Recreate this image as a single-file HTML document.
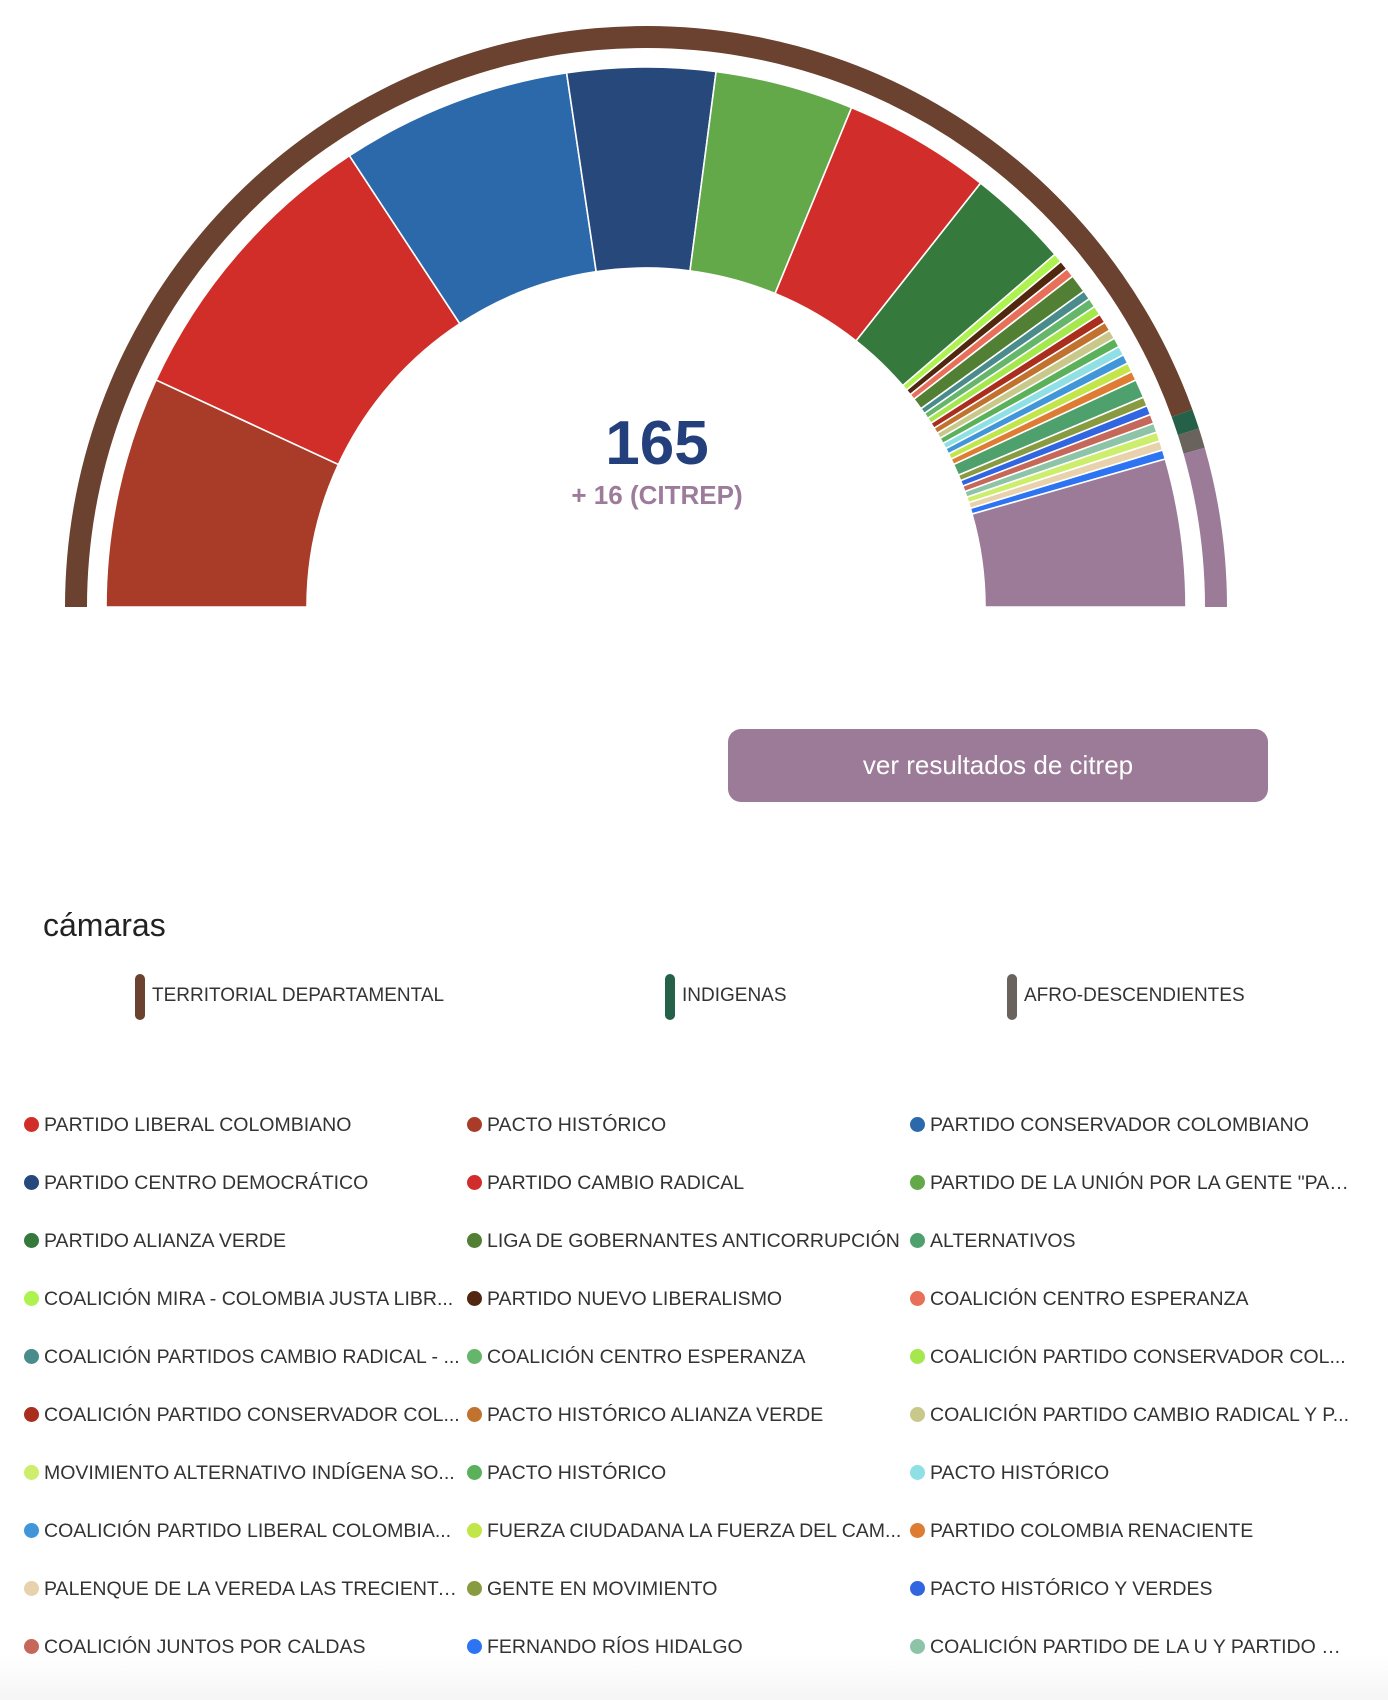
<!DOCTYPE html>
<html><head><meta charset="utf-8">
<style>
html,body{margin:0;padding:0;}
body{width:1388px;height:1700px;position:relative;overflow:hidden;font-family:"Liberation Sans",sans-serif;color:#333;
background:linear-gradient(to bottom,#fff 0,#fff 1655px,#f5f5f5 1700px);}
#chart{position:absolute;left:0;top:0;}
.num{position:absolute;left:0;width:1314px;text-align:center;}
.btn{position:absolute;left:728px;top:729px;width:540px;height:73px;border-radius:13px;background:#9c7b98;color:#fff;font-size:26px;line-height:73px;text-align:center;}
.cam{position:absolute;left:43px;top:907px;font-size:32px;color:#222;}
.cl{position:absolute;top:974px;height:45px;}
.cl i{position:absolute;left:0;top:0;width:10px;height:46px;border-radius:5px;}
.cl span{position:absolute;left:17px;top:11px;font-size:19px;white-space:nowrap;}
.lg{position:absolute;font-size:19.5px;white-space:nowrap;overflow:hidden;text-overflow:ellipsis;width:412px;height:26px;line-height:26px;}
.lg i{display:inline-block;width:15px;height:15px;border-radius:50%;vertical-align:-1px;margin-right:5px;}
</style></head><body>
<svg id="chart" width="1388" height="700" viewBox="0 0 1388 700"></svg>
<div class="num" style="top:408px;font-size:62px;font-weight:bold;color:#233f7c;">165</div>
<div class="num" style="top:480px;font-size:26px;font-weight:bold;color:#9d7b9a;">+ 16 (CITREP)</div>
<div class="btn">ver resultados de citrep</div>
<div class="cam">cámaras</div>
<div class="cl" style="left:135px"><i style="background:#6b412f"></i><span>TERRITORIAL DEPARTAMENTAL</span></div>
<div class="cl" style="left:665px"><i style="background:#246148"></i><span>INDIGENAS</span></div>
<div class="cl" style="left:1007px"><i style="background:#6a625d"></i><span>AFRO-DESCENDIENTES</span></div>
<script>
var cx=646,cy=607;
function P(r,t){t=t*Math.PI/180;return [(cx-r*Math.cos(t)).toFixed(2),(cy-r*Math.sin(t)).toFixed(2)];}
function arc(r0,r1,a0,a1,col,stroke){
 var p1=P(r1,a0),p2=P(r1,a1),p3=P(r0,a1),p4=P(r0,a0);
 var d='M'+p1+' A'+r1+','+r1+' 0 0 1 '+p2+' L'+p3+' A'+r0+','+r0+' 0 0 0 '+p4+'Z';
 return '<path d="'+d+'" fill="'+col+'"'+(stroke?' stroke="#fff" stroke-width="1.6"':'')+'/>';
}
var sl=[[25,'#a83c28'],[32,'#d12e29'],[25,'#2c69aa'],[16,'#27487a'],[15,'#63a949'],[16,'#d12e2b'],[11,'#35793d'],
[1,'#adf24f'],[1,'#52270f'],[1,'#e8705a'],[2,'#517f33'],[1,'#4a8b8b'],[1,'#65b66b'],[1,'#a5e84d'],[1,'#aa2e1e'],[1,'#c1722f'],[1,'#c8c88a'],[1,'#5bb05a'],[1,'#8fe0e5'],[1,'#4196da'],[1,'#c2e54a'],[1,'#dd7c32'],[2,'#4ea06c'],[1,'#889b40'],[1,'#3266e0'],[1,'#c5685a'],[1,'#8dc4a8'],[1,'#cdee6c'],[1,'#e8d2ad'],[1,'#2d74f2'],[16,'#9c7b99']];
var s='',a=0,u=180/181;
sl.forEach(function(x){var b=a+x[0]*u;s+=arc(339,540,a,b,x[1],true);a=b;});
var ring=[[161,'#6b412f'],[2,'#246148'],[2,'#6a625d'],[16,'#9c7b99']];a=0;
ring.forEach(function(x){var b=a+x[0]*u;s+=arc(559,581,a,b,x[1],false);a=b;});
document.getElementById('chart').innerHTML=s;
</script>
<div class="lg" style="left:24px;top:1112px"><i style="background:#d12e29"></i>PARTIDO LIBERAL COLOMBIANO</div>
<div class="lg" style="left:467px;top:1112px"><i style="background:#a83c28"></i>PACTO HISTÓRICO</div>
<div class="lg" style="left:910px;top:1112px"><i style="background:#2c69aa"></i>PARTIDO CONSERVADOR COLOMBIANO</div>
<div class="lg" style="left:24px;top:1170px"><i style="background:#27487a"></i>PARTIDO CENTRO DEMOCRÁTICO</div>
<div class="lg" style="left:467px;top:1170px"><i style="background:#d12e2b"></i>PARTIDO CAMBIO RADICAL</div>
<div class="lg" style="left:910px;top:1170px;width:440px"><i style="background:#63a949"></i>PARTIDO DE LA UNIÓN POR LA GENTE "PAR...</div>
<div class="lg" style="left:24px;top:1228px"><i style="background:#35793d"></i>PARTIDO ALIANZA VERDE</div>
<div class="lg" style="left:467px;top:1228px;width:440px"><i style="background:#517f33"></i>LIGA DE GOBERNANTES ANTICORRUPCIÓN</div>
<div class="lg" style="left:910px;top:1228px"><i style="background:#4ea06c"></i>ALTERNATIVOS</div>
<div class="lg" style="left:24px;top:1286px;width:440px"><i style="background:#adf24f"></i>COALICIÓN MIRA - COLOMBIA JUSTA LIBR...</div>
<div class="lg" style="left:467px;top:1286px"><i style="background:#52270f"></i>PARTIDO NUEVO LIBERALISMO</div>
<div class="lg" style="left:910px;top:1286px"><i style="background:#e8705a"></i>COALICIÓN CENTRO ESPERANZA</div>
<div class="lg" style="left:24px;top:1344px;width:440px"><i style="background:#4a8b8b"></i>COALICIÓN PARTIDOS CAMBIO RADICAL - ...</div>
<div class="lg" style="left:467px;top:1344px"><i style="background:#65b66b"></i>COALICIÓN CENTRO ESPERANZA</div>
<div class="lg" style="left:910px;top:1344px;width:440px"><i style="background:#a5e84d"></i>COALICIÓN PARTIDO CONSERVADOR COL...</div>
<div class="lg" style="left:24px;top:1402px;width:440px"><i style="background:#aa2e1e"></i>COALICIÓN PARTIDO CONSERVADOR COL...</div>
<div class="lg" style="left:467px;top:1402px"><i style="background:#c1722f"></i>PACTO HISTÓRICO ALIANZA VERDE</div>
<div class="lg" style="left:910px;top:1402px;width:440px"><i style="background:#c8c88a"></i>COALICIÓN PARTIDO CAMBIO RADICAL Y P...</div>
<div class="lg" style="left:24px;top:1460px;width:440px"><i style="background:#cdee6c"></i>MOVIMIENTO ALTERNATIVO INDÍGENA SO...</div>
<div class="lg" style="left:467px;top:1460px"><i style="background:#5bb05a"></i>PACTO HISTÓRICO</div>
<div class="lg" style="left:910px;top:1460px"><i style="background:#8fe0e5"></i>PACTO HISTÓRICO</div>
<div class="lg" style="left:24px;top:1518px;width:440px"><i style="background:#4196da"></i>COALICIÓN PARTIDO LIBERAL COLOMBIA...</div>
<div class="lg" style="left:467px;top:1518px;width:440px"><i style="background:#c2e54a"></i>FUERZA CIUDADANA LA FUERZA DEL CAM...</div>
<div class="lg" style="left:910px;top:1518px"><i style="background:#dd7c32"></i>PARTIDO COLOMBIA RENACIENTE</div>
<div class="lg" style="left:24px;top:1576px;width:440px"><i style="background:#e8d2ad"></i>PALENQUE DE LA VEREDA LAS TRECIENTAS...</div>
<div class="lg" style="left:467px;top:1576px"><i style="background:#889b40"></i>GENTE EN MOVIMIENTO</div>
<div class="lg" style="left:910px;top:1576px"><i style="background:#3266e0"></i>PACTO HISTÓRICO Y VERDES</div>
<div class="lg" style="left:24px;top:1634px"><i style="background:#c5685a"></i>COALICIÓN JUNTOS POR CALDAS</div>
<div class="lg" style="left:467px;top:1634px"><i style="background:#2d74f2"></i>FERNANDO RÍOS HIDALGO</div>
<div class="lg" style="left:910px;top:1634px;width:440px"><i style="background:#8dc4a8"></i>COALICIÓN PARTIDO DE LA U Y PARTIDO C...</div>
</body></html>
